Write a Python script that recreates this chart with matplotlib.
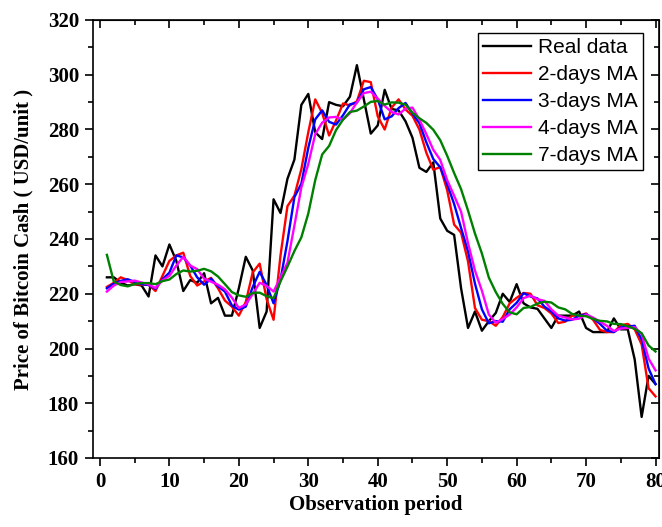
import matplotlib
matplotlib.use("Agg")
import matplotlib.pyplot as plt
from matplotlib.ticker import MultipleLocator

days = list(range(1, 81))

real_data = [226, 226, 224, 223, 223.5, 223, 219, 234, 230, 238,
             232, 221, 225, 224, 227.5, 216.5, 218.5, 212, 212, 222,
             233.5, 228.5, 207.5, 213.5, 254.5, 249.5, 262, 269, 289, 293,
             279, 276.5, 290, 289, 288.5, 292, 303.5, 291, 278.5, 281.5,
             294.5, 287.5, 287, 283, 277, 266, 264.5, 268, 247.5, 243,
             241.5, 222, 207.5, 213.5, 206.5, 210, 213, 220, 217, 223.5,
             216.5, 215, 214.5, 211, 207.5, 212, 212, 212, 213.5, 207.5,
             206, 206, 206, 211, 207, 207, 196, 175, 190, 187]

ma2 = [222.5, 224, 226, 225, 223.5, 223.3, 223.3, 221, 226.5, 232,
       234, 235, 226.5, 223, 224.5, 225.8, 222, 217.5, 215.3, 212,
       217, 227.8, 231, 218, 210.5, 234, 252, 255.8, 265.5, 279,
       291, 286, 277.8, 283.3, 289.5, 288.8, 290.3, 297.8, 297.3, 284.8,
       280, 288, 291, 287.3, 285, 280, 271.5, 265.3, 266.3, 257.8,
       245.3, 242.3, 231.8, 214.8, 210.5, 210, 208.3, 211.5, 216.5, 218.5,
       220.3, 220, 215.8, 214.8, 212.8, 209.3, 209.8, 212, 212, 212.8,
       210.5, 206.8, 206, 206, 208.5, 209, 207, 201.5, 185.5, 182.5]

ma3 = [222, 223.7, 224.7, 225.3, 224.3, 223.5, 223.2, 221.8, 225.3, 227.7,
       234, 233.3, 230.3, 226, 223.3, 225.5, 222.7, 220.8, 215.7, 214.2,
       215.3, 222.5, 228, 223.2, 216.5, 225.2, 239.2, 255.3, 260.2, 273.3,
       283.7, 287, 282.8, 281.8, 285.2, 289.2, 289.8, 294.7, 295.5, 291,
       283.7, 284.8, 287.8, 289.7, 285.8, 282.3, 275.3, 269.2, 266.2, 260,
       252.8, 244, 235.5, 223.7, 214.3, 209.2, 210, 209.8, 214.3, 216.7,
       220.2, 219, 218.3, 215.3, 213.5, 211, 210.2, 210.5, 212, 212.5,
       211, 209, 206.5, 206, 207.7, 208, 208.3, 203.3, 192.7, 187]

ma4 = [220.8, 223, 224.3, 224.5, 224.8, 224.1, 223.4, 222.1, 224.9, 226.5,
       230.3, 233.5, 230.3, 229, 225.5, 224.4, 223.3, 221.6, 218.6, 214.8,
       216.1, 219.9, 224, 222.9, 220.8, 226, 231.3, 244.9, 258.8, 267.4,
       278.3, 282.5, 284.4, 284.6, 283.6, 286, 289.9, 293.3, 293.8, 291.3,
       288.6, 286.4, 285.5, 287.6, 288, 283.6, 278.3, 272.6, 268.9, 261.5,
       255.8, 250, 238.5, 228.5, 221.1, 212.4, 209.4, 210.8, 212.4, 215,
       218.4, 219.3, 218, 217.4, 214.3, 212, 211.3, 210.6, 210.9, 212.4,
       211.3, 209.8, 208.3, 206.4, 207.3, 207.5, 207.8, 205.3, 196.3, 192]

ma7 = [234.2, 224.4, 223.2, 222.7, 223.6, 223.9, 223.9, 223.5, 224.6, 225.2,
       227.2, 228.5, 228.1, 228.4, 229.1, 228.2, 226.3, 223.5, 220.6, 219.4,
       218.9, 220.3, 220.4, 219.1, 218.4, 224.5, 229.9, 235.6, 240.6, 249.3,
       261.5, 270.9, 274, 279.8, 283.6, 286.4, 286.9, 288.4, 290.1, 290.4,
       289.1, 289.9, 289.8, 289.1, 286.1, 284.1, 282.4, 279.9, 276.1, 270.4,
       264.1, 258.2, 250.4, 242, 234.7, 225.9, 220.6, 216.3, 213.2, 212.5,
       214.8, 215.2, 216.4, 217.1, 216.8, 215, 214.3, 212.6, 212, 211.8,
       210.8, 210.1, 209.9, 209, 208.9, 208.1, 207.2, 205.6, 201.1, 198.9]

series_labels = ["Real data", "2-days MA", "3-days MA", "4-days MA", "7-days MA"]
series_colors = ["black", "#ff0000", "#0000ff", "#ff00ff", "#008000"]
series_values = [real_data, ma2, ma3, ma4, ma7]

serif = ["Liberation Serif", "DejaVu Serif"]
sans = ["Liberation Sans", "DejaVu Sans"]

fig = plt.figure(figsize=(6.62, 5.27), dpi=100)
ax = fig.add_axes([93 / 662, 1 - 458 / 527, (659 - 93) / 662, (458 - 20) / 527])

for vals, lab, col in zip(series_values, series_labels, series_colors):
    ax.plot(days, vals, color=col, lw=1.7, label=lab)

ax.set_xlim(-1, 80.5)
ax.set_ylim(160, 320)
ax.xaxis.set_major_locator(MultipleLocator(10))
ax.xaxis.set_minor_locator(MultipleLocator(5))
ax.yaxis.set_major_locator(MultipleLocator(20))
ax.yaxis.set_minor_locator(MultipleLocator(10))
ax.tick_params(which="major", direction="out", length=6, width=1.2, pad=4)
ax.tick_params(which="minor", direction="out", length=3.5, width=1.2)
for sp in ax.spines.values():
    sp.set_linewidth(1.2)

for lbl in ax.get_xticklabels() + ax.get_yticklabels():
    lbl.set_fontfamily(serif)
    lbl.set_fontweight("bold")
    lbl.set_fontsize(15)

# mirrored inward ticks on top and right
top = ax.secondary_xaxis("top")
top.xaxis.set_major_locator(MultipleLocator(10))
top.xaxis.set_minor_locator(MultipleLocator(5))
top.tick_params(which="major", direction="in", length=6, width=1.2, labeltop=False)
top.tick_params(which="minor", direction="in", length=3.5, width=1.2)
right = ax.secondary_yaxis("right")
right.yaxis.set_major_locator(MultipleLocator(20))
right.yaxis.set_minor_locator(MultipleLocator(10))
right.tick_params(which="major", direction="in", length=6, width=1.2, labelright=False)
right.tick_params(which="minor", direction="in", length=3.5, width=1.2)

ax.set_xlabel("Observation period", fontfamily=serif, fontweight="bold", fontsize=15, labelpad=2)
ax.set_ylabel("Price of Bitcoin Cash ( USD/unit )", fontfamily=serif, fontweight="bold",
              fontsize=15, labelpad=10)

leg = ax.legend(loc="upper right", bbox_to_anchor=(643 / 662, 1 - 33 / 527),
                bbox_transform=fig.transFigure, prop={"family": sans, "size": 15},
                frameon=True, fancybox=False, edgecolor="black", framealpha=1,
                handlelength=2.3, handletextpad=0.35, borderpad=0.25,
                labelspacing=0.38, borderaxespad=0)
leg.get_frame().set_linewidth(1.0)

fig.savefig("out.png", dpi=100)
